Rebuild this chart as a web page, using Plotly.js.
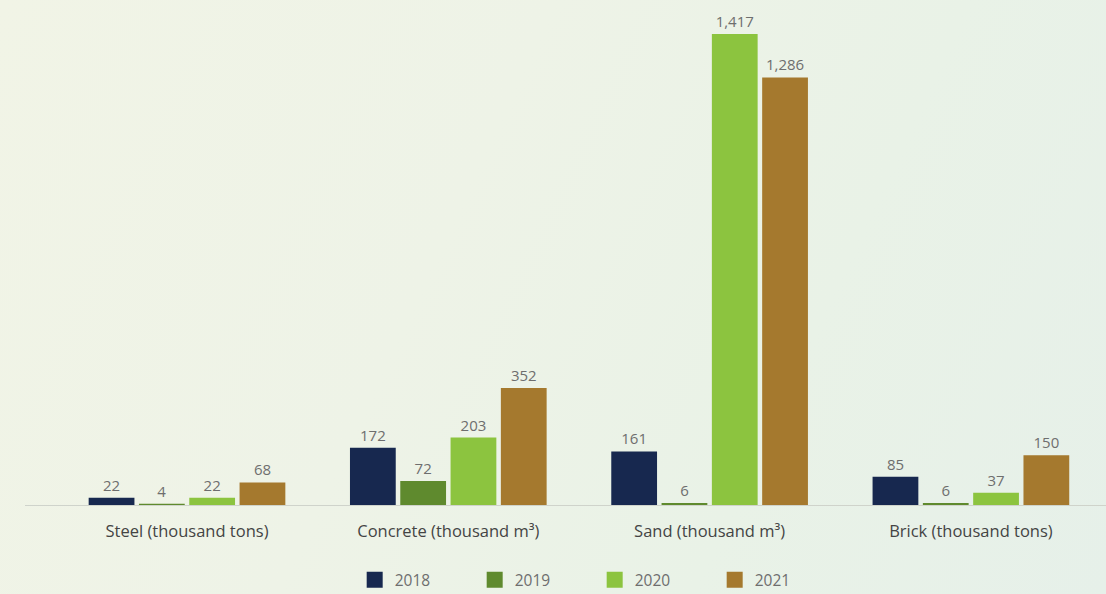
<!DOCTYPE html>
<html>
<head>
<meta charset="utf-8">
<script src="https://cdn.plot.ly/plotly-3.0.1.min.js"></script>
<style>
  html, body { margin: 0; padding: 0; }
  body { width: 1106px; height: 594px; background: linear-gradient(115deg, #f1f4e6 0%, #eef3e7 40%, #e9f2e7 70%, #e6f0e9 100%); overflow: hidden; }
  #chart { width: 1106px; height: 594px; }
</style>
</head>
<body>
<div id="chart"></div>
<script>
const categories = ["Steel (thousand tons)", "Concrete (thousand m³)", "Sand (thousand m³)", "Brick (thousand tons)"];
const years = ["2018", "2019", "2020", "2021"];
const values2018 = [22, 172, 161, 85];
const values2019 = [4, 72, 6, 6];
const values2020 = [22, 203, 1417, 37];
const values2021 = [68, 352, 1286, 150];
const seriesValues = [values2018, values2019, values2020, values2021];
const colors = ["#17284f", "#5f8a2e", "#8cc43f", "#a5792e"];

const fmt = v => v.toLocaleString("en-US");
const FONT = "'Open Sans', sans-serif";

const traces = seriesValues.map((vals, i) => ({
  type: "bar",
  name: years[i],
  x: categories,
  y: vals,
  marker: { color: colors[i] },
  text: vals.map(fmt),
  textposition: "outside",
  cliponaxis: false,
  textfont: { family: FONT, size: 15, color: "#6e6e6e" },
  hoverinfo: "none",
  showlegend: false
}));

// legend entries with larger square swatches
years.forEach((yr, i) => {
  traces.push({
    type: "scatter",
    mode: "markers",
    name: yr,
    x: [null],
    y: [null],
    marker: { symbol: "square", size: 18, color: colors[i] },
    hoverinfo: "none",
    showlegend: true
  });
});

const layout = {
  width: 1106,
  height: 594,
  paper_bgcolor: "rgba(0,0,0,0)",
  plot_bgcolor: "rgba(0,0,0,0)",
  margin: { l: 25, r: 0, t: 10, b: 89, autoexpand: false },
  barmode: "group",
  bargap: 0.23,
  bargroupgap: 0.09,
  font: { family: FONT, size: 15, color: "#444" },
  xaxis: {
    range: [-0.62, 3.517],
    showline: true,
    linecolor: "#cfd3cb",
    linewidth: 1,
    showgrid: false,
    zeroline: false,
    ticks: "outside",
    ticklen: 11,
    tickcolor: "rgba(0,0,0,0)",
    tickfont: { family: FONT, size: 16.5, color: "#444" }
  },
  yaxis: {
    range: [0, 1489],
    visible: false,
    showgrid: false,
    zeroline: false
  },
  showlegend: true,
  legend: {
    orientation: "h",
    x: 0.527,
    xanchor: "center",
    y: -0.152,
    yanchor: "middle",
    font: { family: FONT, size: 15.5, color: "#6e6e6e" },
    entrywidth: 75,
    itemsizing: "trace",
    bgcolor: "rgba(0,0,0,0)"
  }
};

Plotly.newPlot("chart", traces, layout, { displayModeBar: false, staticPlot: true });
</script>
</body>
</html>
